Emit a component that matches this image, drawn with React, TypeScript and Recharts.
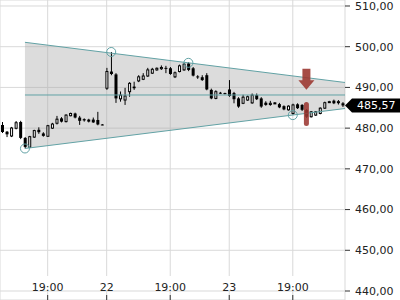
import React from 'react';
import {
  ComposedChart,
  Bar,
  Area,
  Scatter,
  XAxis,
  YAxis,
  CartesianGrid,
  ReferenceLine,
} from 'recharts';

const opens = [
  480.77, 479.12, 478.07, 479.96, 481.5, 477.6, 475.3, 477.8, 479.6, 478.7,
  478.0, 480.0, 481.2, 482.4, 481.6, 483.05, 483.6, 482.6, 482.2, 482.1,
  482.1, 482.0, 480.9, 489.8, 493.9, 493.2, 487.2, 486.9, 488.95, 490.2,
  491.6, 492.0, 492.8, 493.5, 494.3, 494.6, 494.8, 494.7, 492.6, 493.9,
  494.3, 495.9, 494.7, 492.7, 492.5, 493.0, 489.4, 487.3, 488.7, 488.6,
  489.5, 488.6, 487.3, 486.1, 486.9, 486.2, 488.1, 487.3, 486.25, 485.8,
  486.2, 485.9, 485.4, 484.5, 483.6, 485.85, 485.7, 484.45, 482.8, 483.2,
  483.6, 484.9, 486.4, 486.75, 486.3, 486.1,
];
const closes = [
  479.05, 478.48, 480.03, 481.33, 477.6, 475.4, 477.9, 479.4, 479.0, 478.1,
  480.6, 481.0, 482.2, 481.6, 483.2, 483.6, 482.6, 481.8, 481.9, 481.6,
  481.4, 480.9, 480.8, 493.9, 493.3, 487.3, 488.1, 487.9, 491.0, 489.8,
  492.6, 492.8, 494.3, 494.45, 494.7, 494.9, 494.7, 493.3, 493.6, 495.3,
  495.7, 494.3, 492.9, 492.6, 491.8, 489.5, 487.3, 488.95, 488.6, 488.5,
  487.9, 487.1, 485.3, 487.6, 487.7, 488.1, 487.1, 485.3, 485.7, 486.1,
  486.2, 485.1, 484.6, 485.4, 485.7, 484.9, 484.5, 482.8, 484.0, 484.0,
  484.9, 486.25, 486.5, 486.1, 486.5, 485.57,
];
const highs = [
  481.5, 479.3, 480.3, 481.75, 481.8, 477.8, 478.1, 479.6, 480.2, 479.0,
  480.8, 481.3, 483.0, 482.7, 483.4, 483.8, 483.8, 483.0, 482.4, 482.3,
  482.6, 484.0, 481.0, 494.8, 498.7, 493.5, 489.0, 489.9, 491.3, 491.4,
  493.0, 493.5, 494.8, 494.8, 494.9, 495.4, 495.3, 495.0, 493.9, 495.6,
  496.0, 496.2, 495.0, 493.0, 493.0, 493.5, 489.7, 489.3, 488.9, 488.7,
  491.8, 488.9, 487.6, 488.2, 488.0, 488.5, 488.5, 487.6, 486.6, 486.7,
  486.4, 486.2, 485.6, 485.6, 486.0, 486.1, 485.9, 484.7, 484.2, 484.2,
  485.1, 486.5, 486.7, 487.0, 486.9, 486.4,
];
const lows = [
  478.8, 477.8, 477.8, 479.7, 477.3, 475.0, 475.1, 477.6, 478.6, 477.9,
  477.9, 479.8, 480.9, 481.4, 481.4, 482.9, 482.4, 480.8, 481.6, 481.4,
  481.3, 480.7, 480.7, 489.4, 493.0, 486.2, 486.5, 485.7, 487.7, 489.4,
  491.3, 491.8, 492.6, 493.3, 494.1, 494.3, 493.5, 493.1, 492.3, 493.7,
  494.1, 494.0, 492.7, 492.1, 491.6, 489.3, 487.1, 487.1, 488.4, 488.3,
  487.7, 486.1, 485.0, 485.9, 486.7, 486.0, 486.9, 485.0, 485.5, 485.5,
  486.0, 484.9, 484.4, 484.3, 483.3, 484.7, 484.2, 482.5, 482.6, 483.0,
  483.4, 484.7, 486.3, 485.9, 485.8, 485.2,
];

const tickIndex = [10, 23, 37, 50, 64];
const tickLabels = ['19:00', '22', '19:00', '23', '19:00'];
const yTicks = [440, 450, 460, 470, 480, 490, 500, 510];
const yDomain = [437.79, 511.47];
const lastPrice = 485.57;

const wedgeX = [5, 75.5];
const upperLine = [501.08, 491.21];
const lowerLine = [475.0, 484.82];
const midLevel = 488.14;
const pivotIdx = [5, 24, 41, 64];
const pivotVals = [475.0, 498.7, 496.04, 483.2];
const signalIdx = 67;
const arrowVal = 492.0;
const markVal = 483.47;

const candles = opens.map((o, i) => ({
  i,
  o,
  c: closes[i],
  hi: highs[i],
  lo: lows[i],
  range: [lows[i], highs[i]],
}));

const wedgeData = wedgeX.map((x, k) => ({ x, band: [lowerLine[k], upperLine[k]] }));
const upperSeg = wedgeX.map((x, k) => ({ x, y: upperLine[k] }));
const lowerSeg = wedgeX.map((x, k) => ({ x, y: lowerLine[k] }));
const midSeg = wedgeX.map((x) => ({ x, y: midLevel }));
const pivotData = pivotIdx.map((x, k) => ({ x, y: pivotVals[k] }));
const arrowData = [{ x: signalIdx, y: arrowVal }];
const markData = [{ x: signalIdx, y: markVal }];

const TEAL = '#62a2a5';
const RED = '#9c3832';
const FONT = 'DejaVu Sans, sans-serif';

const Candle = (props: any) => {
  const { x, y, width, height, payload } = props;
  if (!payload || x == null) return null;
  const top = Math.min(y, y + height);
  const h = Math.abs(height);
  const { o, c, hi, lo } = payload;
  const k = hi > lo ? h / (hi - lo) : 0;
  const py = (v: number) => top + (hi - v) * k;
  const cx = x + width / 2;
  const up = c >= o;
  const bTop = py(Math.max(o, c));
  const bBot = py(Math.min(o, c));
  const bh = Math.max(bBot - bTop, 1);
  return (
    <g>
      <line x1={cx} x2={cx} y1={top} y2={top + h} stroke="#000" strokeWidth={1} />
      {up ? (
        <rect x={x + 0.5} y={bTop} width={width - 1} height={Math.max(bh, 1)} fill="#fff" stroke="#000" strokeWidth={1} />
      ) : (
        <rect x={x} y={bTop} width={width} height={bh} fill="#000" />
      )}
    </g>
  );
};

const Pivot = (props: any) => (
  <circle cx={props.cx} cy={props.cy} r={4.5} fill="none" stroke={TEAL} strokeWidth={1} />
);

const Arrow = (props: any) => {
  const { cx, cy } = props;
  const d = `M${cx - 4},${cy - 10.5} L${cx + 4},${cy - 10.5} L${cx + 4},${cy + 1} L${cx + 8},${cy + 1} L${cx},${cy + 10.5} L${cx - 8},${cy + 1} L${cx - 4},${cy + 1} Z`;
  return <path d={d} fill={RED} fillOpacity={0.9} />;
};

const Mark = (props: any) => {
  const { cx, cy } = props;
  return <rect x={cx - 2.5} y={cy - 12} width={5} height={24} rx={2.5} fill={RED} fillOpacity={0.88} />;
};

const XTick = (props: any) => {
  const { x, y, payload } = props;
  const idx = tickIndex.indexOf(payload.value);
  const label = idx >= 0 ? tickLabels[idx] : '';
  const w = label.length * 7 + 4;
  return (
    <g>
      <rect x={x - w / 2} y={y - 15} width={w} height={14} fill="#fff" />
      <text x={x} y={y} textAnchor="middle" fontSize={11} fontFamily={FONT} fill="#222">
        {label}
      </text>
    </g>
  );
};

const PriceTag = (props: any) => {
  const vb = props.viewBox || {};
  const x0 = vb.x + vb.width;
  const yc = vb.y;
  const d = `M${x0},${yc} L${x0 + 7},${yc - 7} L${x0 + 55},${yc - 7} L${x0 + 55},${yc + 7} L${x0 + 7},${yc + 7} Z`;
  return (
    <g>
      <path d={d} fill="#000" />
      <text x={x0 + 12} y={yc + 4} fontSize={11} fontFamily={FONT} fill="#fff">
        {lastPrice.toFixed(2).replace('.', ',')}
      </text>
    </g>
  );
};

export default function App() {
  return (
    <div style={{ position: 'absolute', left: 0, top: 0, width: 400, height: 300, background: '#fff' }}>
      <ComposedChart width={400} height={300} data={candles} margin={{ top: 0, right: 0, bottom: 0, left: 0 }}>
        <CartesianGrid stroke="#d9d9d9" strokeWidth={1} />
        <XAxis xAxisId="cat" dataKey="i" type="category" hide />
        <XAxis
          dataKey="x"
          type="number"
          domain={[-0.5, 75.5]}
          ticks={tickIndex}
          interval={0}
          mirror
          height={30}
          tickSize={5}
          tickMargin={4}
          axisLine={false}
          tickLine={{ stroke: '#333' }}
          tick={<XTick />}
          allowDataOverflow
        />
        <YAxis
          orientation="right"
          width={55}
          domain={yDomain}
          ticks={yTicks}
          interval={0}
          allowDataOverflow
          axisLine={false}
          tickSize={5}
          tickMargin={5}
          tickLine={{ stroke: '#333' }}
          tick={{ fontSize: 11, fill: '#222', fontFamily: FONT }}
          tickFormatter={(v: number) => v.toFixed(2).replace('.', ',')}
        />
        <Area data={wedgeData} dataKey="band" fill="#a8a8a8" fillOpacity={0.4} stroke="none" dot={false} activeDot={false} isAnimationActive={false} />
        <ReferenceLine segment={upperSeg} stroke={TEAL} strokeWidth={1} ifOverflow="visible" />
        <ReferenceLine segment={lowerSeg} stroke={TEAL} strokeWidth={1} ifOverflow="visible" />
        <ReferenceLine segment={midSeg} stroke={TEAL} strokeWidth={1} ifOverflow="visible" />
        <Bar xAxisId="cat" dataKey="range" barSize={3} shape={<Candle />} isAnimationActive={false} />
        <Scatter data={pivotData} dataKey="y" shape={<Pivot />} isAnimationActive={false} />
        <Scatter data={arrowData} dataKey="y" shape={<Arrow />} isAnimationActive={false} />
        <Scatter data={markData} dataKey="y" shape={<Mark />} isAnimationActive={false} />
        <ReferenceLine y={lastPrice} stroke="none" label={<PriceTag />} />
      </ComposedChart>
    </div>
  );
}
